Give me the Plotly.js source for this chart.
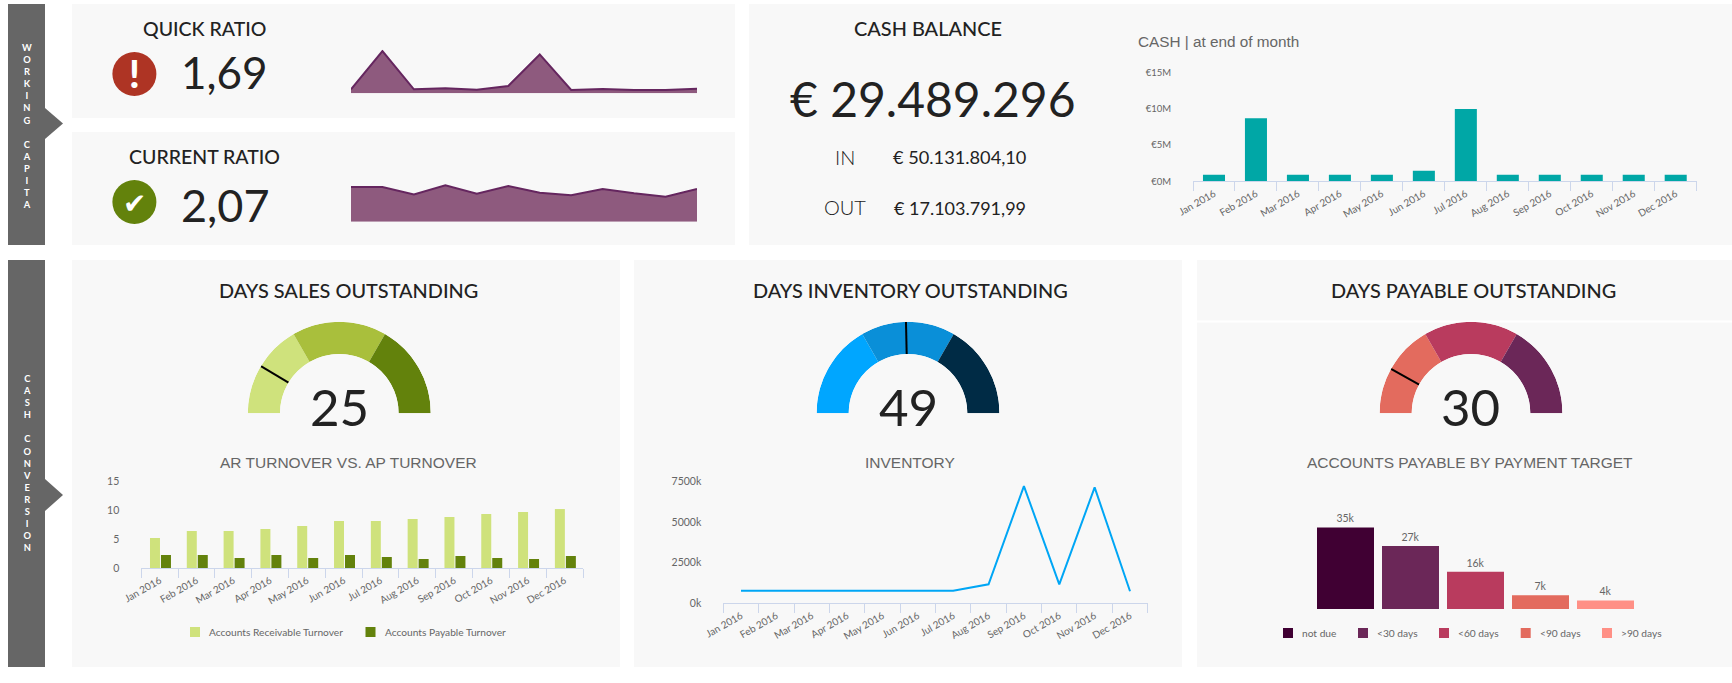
<!DOCTYPE html>
<html><head><meta charset="utf-8">
<script src="https://cdn.plot.ly/plotly-3.0.1.min.js"></script>
<style>html,body{margin:0;padding:0;background:#fff;overflow:hidden}#chart{width:1732px;height:683px}</style>
</head><body><div id="chart"></div>
<script>
// ---------- data ----------
const months = ['Jan 2016','Feb 2016','Mar 2016','Apr 2016','May 2016','Jun 2016','Jul 2016','Aug 2016','Sep 2016','Oct 2016','Nov 2016','Dec 2016'];
const quickRatio = [1.47,15.55,1.47,1.84,1.32,2.68,14.3,1.25,1.58,1.25,1.25,1.69];
const currentRatio = [2.2,2.2,1.73,2.3,1.77,2.26,1.84,1.67,2.07,1.8,1.58,2.07];
const cashMillions = [0.9,8.7,0.9,0.9,0.9,1.45,10,0.9,0.9,0.9,0.9,0.9];
const cashTicks = [0,5,10,15];
const cashTickLabels = ['€0M','€5M','€10M','€15M'];
const arTurnover = [5.2,6.4,6.4,6.75,7.27,8.13,8.13,8.48,8.82,9.34,9.69,10.2];
const apTurnover = [2.25,2.25,1.73,2.25,1.73,2.25,1.9,1.56,2.08,1.73,1.56,2.08];
const turnoverTicks = [0,5,10,15];
const turnoverNames = ['Accounts Receivable Turnover','Accounts Payable Turnover'];
const inventoryK = [780,780,780,780,780,780,780,1170,7230,1170,7150,740];
const inventoryTicks = [0,2500,5000,7500];
const inventoryTickLabels = ['0k','2500k','5000k','7500k'];
const payableCats = ['not due','<30 days','<60 days','<90 days','>90 days'];
const payableK = [35,27,16,5.9,3.7];
const payableLabels = ['35k','27k','16k','7k','4k'];
const gaugeValues = [25,49,30];
const gaugeMax = [145,99.4,186];
const gaugeZones = [1,1,1];

// ---------- page geometry ----------
const W = 1732, H = 683;
const px = x => x / W, py = y => 1 - y / H;
const GREY = '#666666', AXIS = '#ccd6eb', INK = '#222222', PANEL = '#f8f8f8';
const KPI = 'Lato, sans-serif', ARIAL = '"Liberation Sans", Arial, sans-serif';
const purple = ['#400033','#6b2758','#b93b5e','#e36b5e','#ff9086'];
const gaugeColors = [['#cfe27c','#a9bf3c','#63820c'],['#00a6ff','#0a8fd8','#002b45'],['#e36b5e','#b93b5e','#6b2758']];
const gaugeCx = [339.3,908,1471];

const data = [], shapes = [], annotations = [];
const layout = {
  width: W, height: H, margin: {l:0,r:0,t:0,b:0,pad:0}, paper_bgcolor:'#ffffff', plot_bgcolor:'rgba(0,0,0,0)',
  barmode:'overlay', font:{family:KPI,color:GREY}, showlegend:false, hovermode:false,
  shapes, annotations
};

function rect(x0,y0,x1,y1,color){shapes.push({type:'rect',xref:'paper',yref:'paper',layer:'below',x0:px(x0),x1:px(x1),y0:py(y0),y1:py(y1),fillcolor:color,line:{width:0}});}
function tip(x,y0,y1,xt){shapes.push({type:'path',xref:'paper',yref:'paper',layer:'below',fillcolor:'#666666',line:{width:0},
  path:`M ${px(x)} ${py(y0)} L ${px(xt)} ${py((y0+y1)/2)} L ${px(x)} ${py(y1)} Z`});}
function txt(text,x,y,size,opts={}){annotations.push(Object.assign({text,xref:'paper',yref:'paper',x:px(x),y:py(y),xanchor:'center',yanchor:'middle',showarrow:false,borderpad:0,
  font:{family:opts.family||KPI,size,color:opts.color||INK,weight:opts.weight||400}},opts.anchor?{xanchor:opts.anchor}:{}));}
function circle(cx,cy,r,color){shapes.push({type:'circle',xref:'paper',yref:'paper',layer:'below',x0:px(cx-r),x1:px(cx+r),y0:py(cy+r),y1:py(cy-r),fillcolor:color,line:{width:0}});}
function key(x,y,color,label,textX){rect(x,y-5,x+10,y+5,color);txt(label,textX,y,10.2,{color:GREY,anchor:'left'});}

// panels and side tabs
rect(72,4,735,118,PANEL); rect(72,132,735,245,PANEL); rect(749,4,1732,245,PANEL);
rect(72,260,620,667,PANEL); rect(634,260,1182,667,PANEL); rect(1197,260,1732,667,PANEL);
rect(1197,320.5,1732,322.5,'#ffffff');
rect(8,4,45,245,'#666666'); rect(8,260,45,667,'#666666');
tip(45,108,139,63); tip(45,479,511,63);
const vert = s => s.split('').join('<br>');
txt(vert('WORKING CAPITA'),26.5,126,9.3,{color:'#ffffff',weight:700});
txt(vert('CASH CONVERSION'),26.5,463.5,9.3,{color:'#ffffff',weight:700});

// cartesian helpers
function xAxis(x0,x1,range,on){return {domain:[px(x0),px(x1)],type:'category',range,fixedrange:true,showgrid:false,zeroline:false,
  visible:on,showline:on,linecolor:AXIS,linewidth:1,ticks:on?'outside':'',tickson:'boundaries',ticklen:9,tickcolor:AXIS,tickwidth:1,
  tickangle:-30,ticklabelstandoff:2,tickfont:{family:KPI,size:10,color:GREY},automargin:false};}
function yAxis(top,bot,range,on,extra={}){return Object.assign({domain:[py(bot),py(top)],range,fixedrange:true,showgrid:false,zeroline:false,
  visible:on,showline:false,ticks:'',ticklabelstandoff:21,tickfont:{family:KPI,size:10.5,color:GREY},automargin:false},extra);}
const lim = [-0.5,11.5];

// 1 quick ratio, 2 current ratio
layout.xaxis = xAxis(351,697,[0,11],false); layout.yaxis = yAxis(49.8,93.3,[0,16],false);
layout.xaxis.categoryarray = months; layout.yaxis.anchor='x';
layout.xaxis2 = xAxis(351,697,[0,11],false); layout.yaxis2 = yAxis(183.8,221.7,[0,2.4],false);
const spark = (y,a,b) => ({type:'scatter',mode:'lines',x:months,y,xaxis:a,yaxis:b,fill:'tozeroy',fillcolor:'#8e5a7e',line:{color:'#65265f',width:2},showlegend:false,cliponaxis:false});
data.push(spark(quickRatio,'x','y'), spark(currentRatio,'x2','y2'));

// 3 cash bars
layout.xaxis3 = xAxis(1193,1696.7,lim,true); layout.xaxis3.anchor='y3';
layout.yaxis3 = yAxis(72.7,181.3,[0,15],true,{tickmode:'array',tickvals:cashTicks,ticktext:cashTickLabels,anchor:'x3',tickfont:{family:KPI,size:9.5,color:GREY}});
data.push({type:'bar',x:months,y:cashMillions,xaxis:'x3',yaxis:'y3',marker:{color:'#00a7a6',line:{width:0}},width:0.525,showlegend:false});

// 4 AR vs AP turnover
layout.xaxis4 = xAxis(141.3,583,lim,true); layout.xaxis4.anchor='y4';
layout.yaxis4 = yAxis(481.3,568,[0,15],true,{tickmode:'array',tickvals:turnoverTicks,anchor:'x4'});
data.push({type:'bar',name:turnoverNames[0],x:months,y:arTurnover,xaxis:'x4',yaxis:'y4',marker:{color:'#cfe27c',line:{width:0}},width:0.2715,offset:-0.264,showlegend:false});
data.push({type:'bar',name:turnoverNames[1],x:months,y:apTurnover,xaxis:'x4',yaxis:'y4',marker:{color:'#63820c',line:{width:0}},width:0.2715,offset:0.0345,showlegend:false});
key(190,632,'#cfe27c',turnoverNames[0],208);
key(365.5,632,'#63820c',turnoverNames[1],383.7);

// 5 inventory
layout.xaxis5 = xAxis(723.3,1147.7,lim,true); layout.xaxis5.anchor='y5';
layout.yaxis5 = yAxis(481.7,603.3,[0,7500],true,{tickmode:'array',tickvals:inventoryTicks,ticktext:inventoryTickLabels,anchor:'x5'});
data.push({type:'scatter',mode:'lines',x:months,y:inventoryK,xaxis:'x5',yaxis:'y5',line:{color:'#00a6f5',width:2},showlegend:false});

// 6 accounts payable
layout.xaxis6 = xAxis(1313,1638,[-0.5,4.5],false); layout.xaxis6.anchor='y6';
layout.yaxis6 = yAxis(515.8,609,[0,40],false,{anchor:'x6'});
payableCats.forEach((c,i)=>data.push({type:'bar',name:c,x:[c],y:[payableK[i]],text:[payableLabels[i]],textposition:'outside',cliponaxis:false,
  textfont:{family:KPI,size:10.5,color:GREY},xaxis:'x6',yaxis:'y6',width:0.877,marker:{color:purple[i],line:{width:0}},showlegend:false}));
layout.xaxis6.categoryorder='array'; layout.xaxis6.categoryarray=payableCats;
[1283,1358,1439,1520.7,1602].forEach((x,i)=>key(x,633,purple[i],payableCats[i],x+18));

// gauges
const R = 91.5, CY = 413.3;
gaugeValues.forEach((v,i)=>{
  const k = i===0?'polar':'polar'+(i+1);
  layout[k] = {domain:{x:[px(gaugeCx[i]-R),px(gaugeCx[i]+R)],y:[py(CY),py(CY-R)]},sector:[0,180],hole:0.648,bargap:0,bgcolor:'rgba(0,0,0,0)',
    radialaxis:{visible:false,range:[0,1]},angularaxis:{visible:false,rotation:0,direction:'counterclockwise'}};
  data.push({type:'barpolar',subplot:k,r:gaugeZones,theta:[150,90,30],width:[60,60,60],marker:{color:gaugeColors[i],line:{width:0}},showlegend:false});
  const th = 180*(1-v/gaugeMax[i]);
  data.push({type:'scatterpolar',subplot:k,mode:'lines',r:[0,1],theta:[th,th],line:{color:'#000000',width:2},showlegend:false,cliponaxis:false});
  txt(String(v),[339,908,1470][i],406,51);
});

// KPI text
txt('QUICK RATIO',204,28,19.5,{weight:500});
txt('CURRENT RATIO',204,156,19.5,{weight:500});
txt('1,69',224,72,44);
txt('2,07',225,205,45);
circle(134.4,74,22,'#ae3424'); circle(134.4,202,22,'#63820c');
txt('!',134.4,73,38,{color:'#ffffff',weight:900});
txt('✔',134.4,203,28,{color:'#ffffff',family:'"DejaVu Sans"'});
txt('CASH BALANCE',928,28,19.9,{weight:500});
txt('€ 29.489.296',933,99,48);
txt('IN',845,157,20,{weight:300});
txt('€ 50.131.804,10',959,157,18.2);
txt('OUT',845,207,20,{weight:300});
txt('€ 17.103.791,99',960,208,18);
txt('CASH | at end of month',1137,41,15.3,{family:ARIAL,color:GREY,anchor:'left'});
txt('DAYS SALES OUTSTANDING',348,290,19.9,{weight:500});
txt('DAYS INVENTORY OUTSTANDING',910,290,19.9,{weight:500});
txt('DAYS PAYABLE OUTSTANDING',1473,290,19.9,{weight:500});
txt('AR TURNOVER VS. AP TURNOVER',348,462,15.5,{family:ARIAL,color:GREY});
txt('INVENTORY',910,462,15.5,{family:ARIAL,color:GREY});
txt('ACCOUNTS PAYABLE BY PAYMENT TARGET',1470,462,15.5,{family:ARIAL,color:GREY});

Plotly.newPlot('chart',data,layout,{displayModeBar:false,staticPlot:true,responsive:false});
</script></body></html>
